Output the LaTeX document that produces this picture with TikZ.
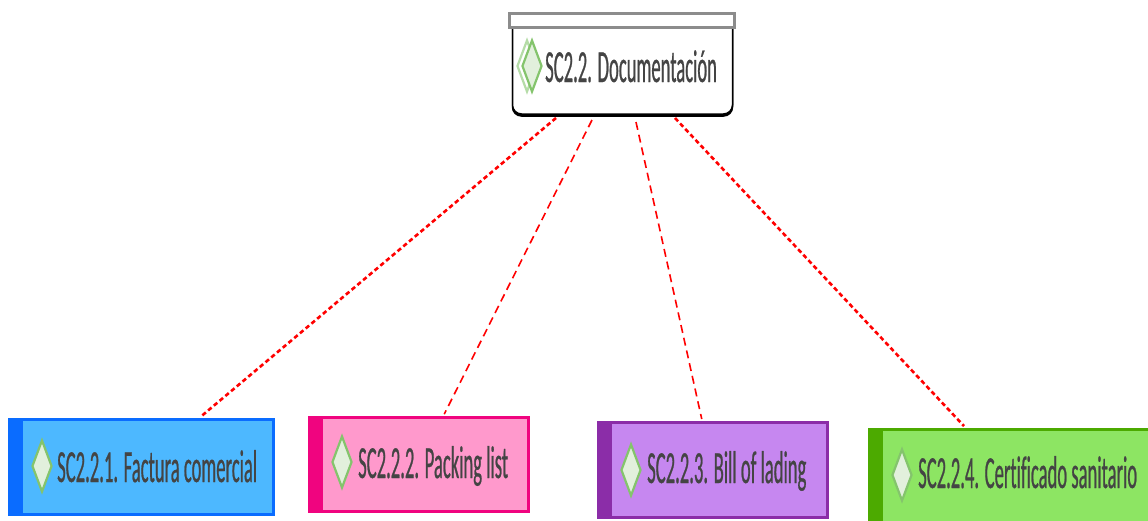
\documentclass[tikz,border=0pt]{standalone}
\usepackage{fontspec}
\usetikzlibrary{shapes.geometric,shadows}
\newfontfamily\boxfont[FakeStretch=0.405,FakeBold=0.5,Ligatures=NoCommon]{Carlito}
\definecolor{inkgray}{HTML}{444444}
\definecolor{iconedge}{HTML}{84C46C}
\definecolor{iconfill}{HTML}{E2F0DC}
\definecolor{barcolor}{HTML}{8C8C8C}
\definecolor{bluedark}{HTML}{0A6CFF}
\definecolor{bluelight}{HTML}{4DB8FF}
\definecolor{pinkdark}{HTML}{F0047F}
\definecolor{pinklight}{HTML}{FF99CC}
\definecolor{purpledark}{HTML}{8B2DA8}
\definecolor{purplelight}{HTML}{C687F0}
\definecolor{greendark}{HTML}{4CAA00}
\definecolor{greenlight}{HTML}{8DE563}
\begin{document}
\begin{tikzpicture}[x=1pt,y=-1pt,
    mainbox/.style={rectangle,draw=black,fill=white,line width=1.5pt,rounded corners=9pt,minimum width=220pt,minimum height=100pt,copy shadow={shadow xshift=0pt,shadow yshift=-2pt,fill=black,draw=black}},
    topbar/.style={rectangle,draw=barcolor,fill=white,line width=3.4pt,minimum width=225.5pt,minimum height=14.5pt,inner sep=0pt},
    childbox/.style={rectangle,line width=3pt,inner sep=0pt},
    band/.style={rectangle,inner sep=0pt,minimum width=15pt},
    icon/.style={diamond,draw=iconedge,fill=iconfill,line width=2.2pt,inner sep=0pt,minimum width=20pt,minimum height=52pt},
    boxlabel/.style={anchor=base west,inner sep=0pt,text=inkgray,font=\fontsize{46}{46}\boxfont},
    thicklink/.style={red,line width=2.6pt,dash pattern=on 4.5pt off 3pt,shorten >=2pt},
    thinlink/.style={red,line width=1.6pt,dash pattern=on 8pt off 5pt,shorten >=2pt}]
  \clip (0,0) rectangle (1148,520);
  \fill[white] (0,0) rectangle (1148,520);

  \node[mainbox] (main) at (622.5,64) {};
  \node[topbar] (bar) at (622,20.5) {};
  \node[icon,draw=iconedge!60,fill=none] (mainiconback) at (527,66) {};
  \node[icon] (mainicon) at (532,66) {};
  \node[boxlabel] (maintext) at (545,82) {SC2.2. Documentación};

  \node[childbox,draw=bluedark,fill=bluelight,minimum width=264pt,minimum height=95pt] (factura) at (141.5,466.5) {};
  \node[band,fill=bluedark,minimum height=98pt] (facturaband) at (15.5,466.5) {};
  \node[icon] (facturaicon) at (42,466) {};
  \node[boxlabel] (facturatext) at (57,482) {SC2.2.1. Factura comercial};

  \node[childbox,draw=pinkdark,fill=pinklight,minimum width=219pt,minimum height=94pt] (packing) at (419,464.5) {};
  \node[band,fill=pinkdark,minimum height=97pt] (packingband) at (315.5,464.5) {};
  \node[icon] (packingicon) at (342,462) {};
  \node[boxlabel] (packingtext) at (358,478) {SC2.2.2. Packing list};

  \node[childbox,draw=purpledark,fill=purplelight,minimum width=229pt,minimum height=95pt] (lading) at (713,470) {};
  \node[band,fill=purpledark,minimum height=98pt] (ladingband) at (604.5,470) {};
  \node[icon] (ladingicon) at (631,470) {};
  \node[boxlabel] (ladingtext) at (647,483) {SC2.2.3. Bill of lading};

  \node[childbox,draw=greendark,fill=greenlight,minimum width=288pt,minimum height=100pt] (sanitario) at (1013.5,479) {};
  \node[band,fill=greendark,minimum height=103pt] (sanitarioband) at (875.5,479) {};
  \node[icon] (sanitarioicon) at (902,475) {};
  \node[boxlabel] (sanitariotext) at (918,488) {SC2.2.4. Certificado sanitario};

  \coordinate (out1) at (556,118);
  \coordinate (out2) at (592,120);
  \coordinate (out3) at (636,122);
  \coordinate (out4) at (675,118);

  \draw[thicklink] (out1) -- (factura);
  \draw[thinlink] (out2) -- (packing);
  \draw[thinlink] (out3) -- (lading);
  \draw[thicklink] (out4) -- (sanitario);
\end{tikzpicture}
\end{document}
